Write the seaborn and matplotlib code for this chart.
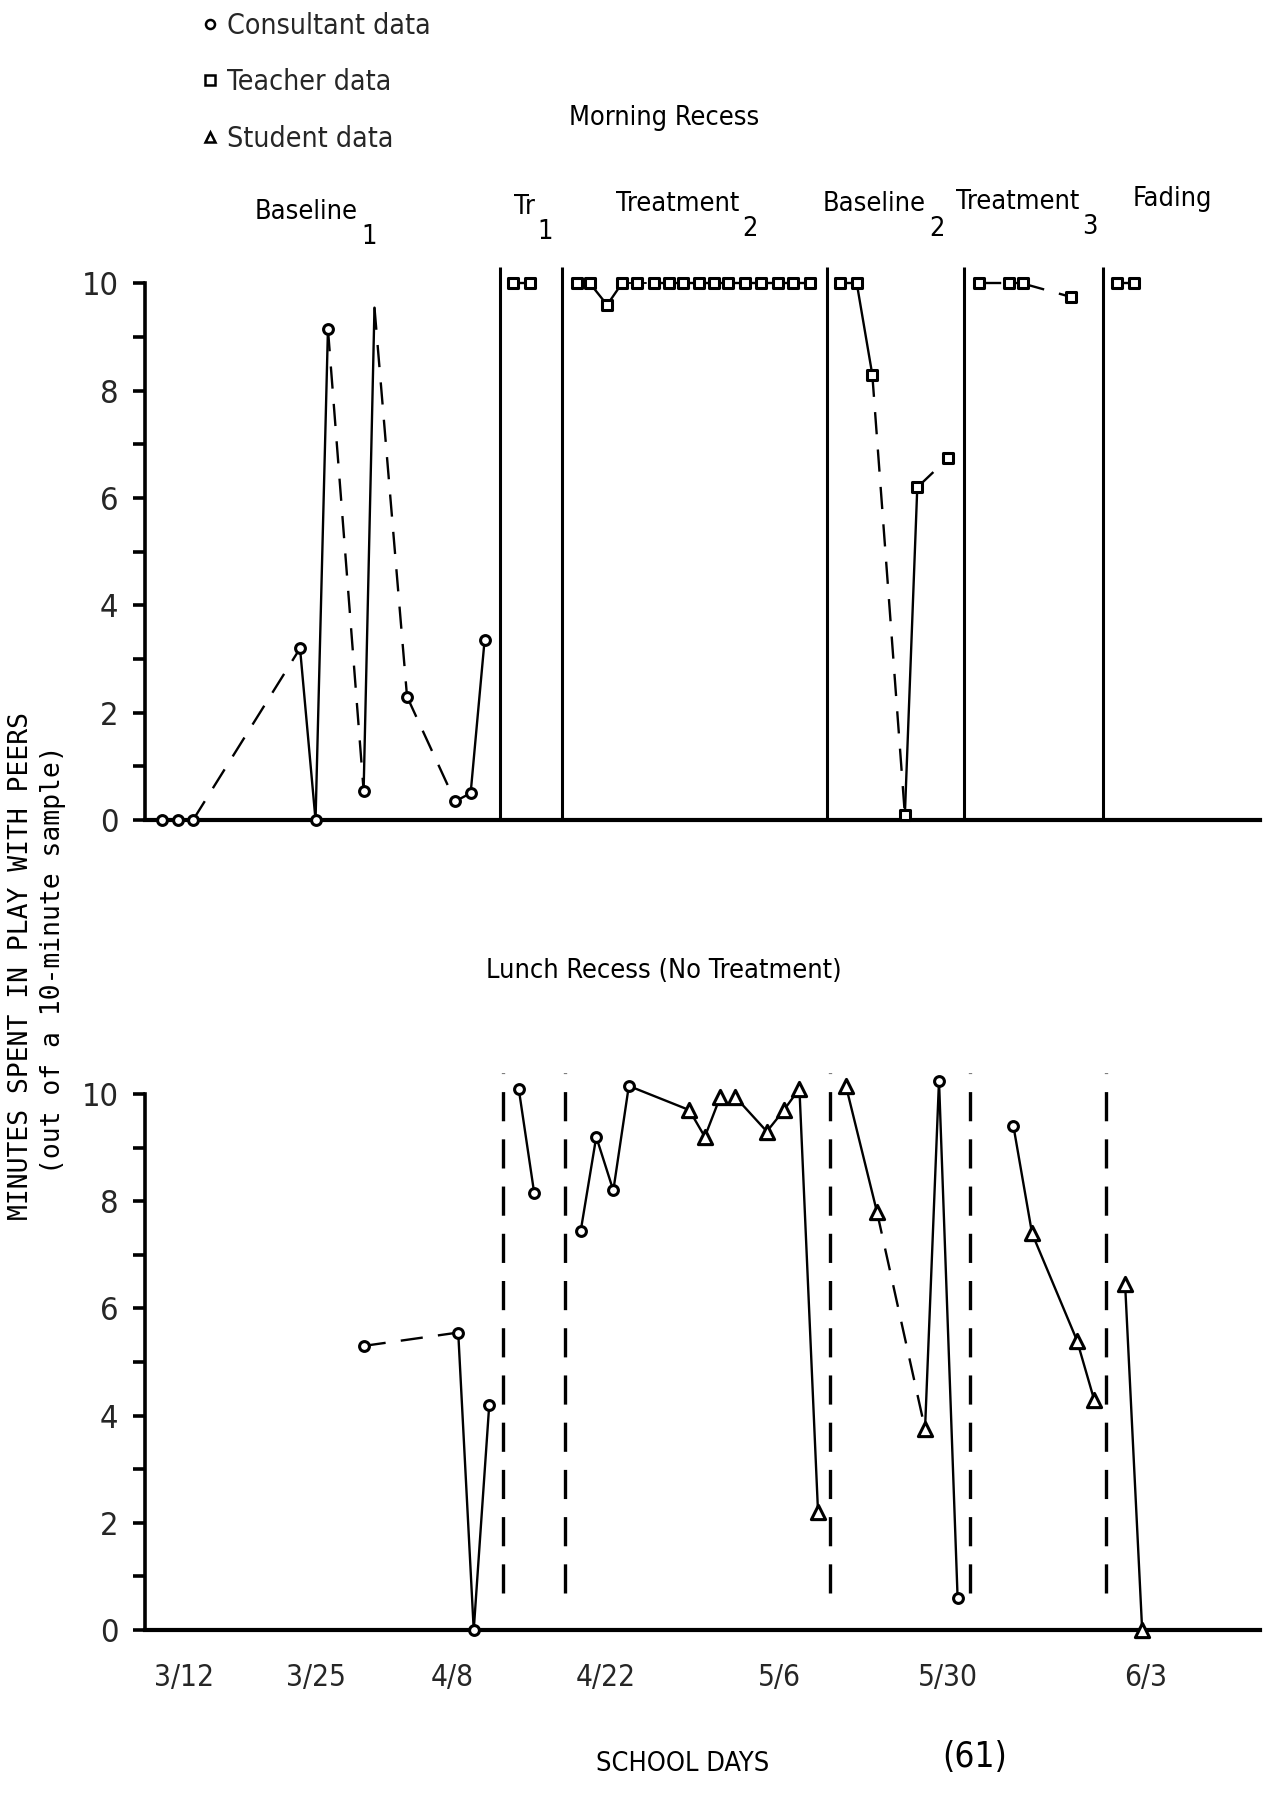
import matplotlib
matplotlib.use("Agg")
import numpy as np
import pandas as pd
import matplotlib.pyplot as plt
import seaborn as sns
from matplotlib import font_manager as fm
from matplotlib.lines import Line2D

# ---------------- DATA (x = school-day index, y = minutes of play out of 10) -------------
# Morning recess
TOP_B1_X = [1.0, 2.0, 3.0, 9.9, 10.9, 11.7, 14.0, 14.7, 16.8, 19.9, 20.9, 21.8]
TOP_B1_Y = [0, 0, 0, 3.2, 0, 9.15, 0.55, 9.55, 2.3, 0.35, 0.5, 3.35]
TOP_B1_LINK = ['-', '-', '--', '-', '-', '--', '-', '--', '--', '-', '-']
TOP_B1_MARK = ['o', 'o', 'o', 'o', 'o', 'o', 'o', '', 'o', 'o', 'o', 'o']

TOP_TR1_X = [23.6, 24.7]
TOP_TR1_Y = [10, 10]
TOP_TR1_LINK = ['-']

TOP_TR2_X = [27.75, 28.6, 29.7, 30.65, 31.6, 32.7, 33.7, 34.6, 35.6, 36.6, 37.5,
             38.6, 39.6, 40.7, 41.7, 42.8]
TOP_TR2_Y = [10, 10, 9.6, 10, 10, 10, 10, 10, 10, 10, 10, 10, 10, 10, 10, 10]
TOP_TR2_LINK = ['-', '-', '-', ':', ':', '-', '-', '-', '-', '-', '-', '-', '-', '-', '-']

TOP_B2_X = [44.7, 45.8, 46.8, 48.9, 49.7, 51.7]
TOP_B2_Y = [10, 10, 8.3, 0.1, 6.2, 6.75]
TOP_B2_LINK = ['-', '-', '--', '-', '--']

TOP_TR3_X = [53.7, 55.6, 56.5, 59.6]
TOP_TR3_Y = [10, 10, 10, 9.75]
TOP_TR3_LINK = ['--', '-', '--']

TOP_FAD_X = [62.6, 63.7]
TOP_FAD_Y = [10, 10]
TOP_FAD_LINK = ['-']

TOP_PHASE_X = [22.8, 26.8, 43.9, 52.7, 61.7]

# Lunch recess
BOT_B1_X = [14.0, 20.1, 21.1, 22.1]
BOT_B1_Y = [5.3, 5.55, 0.0, 4.2]
BOT_B1_LINK = ['--', '-', '-']
BOT_B1_MARK = ['o', 'o', 'o', 'o']

BOT_TR1_X = [24.0, 25.0]
BOT_TR1_Y = [10.1, 8.15]
BOT_TR1_LINK = ['-']
BOT_TR1_MARK = ['o', 'o']

BOT_TR2_X = [28.0, 29.0, 30.1, 31.1, 35.0, 36.0, 37.0, 37.95, 40.0, 41.1, 42.1, 43.3]
BOT_TR2_Y = [7.45, 9.2, 8.2, 10.15, 9.7, 9.2, 9.95, 9.95, 9.3, 9.7, 10.1, 2.2]
BOT_TR2_LINK = ['-', '-', '-', '-', '-', '-', '', '-', '-', '-', '-']
BOT_TR2_MARK = ['o', 'o', 'o', 'o', '^', '^', '^', '^', '^', '^', '^', '^']

BOT_B2_X = [45.1, 47.1, 50.2, 51.1, 52.3]
BOT_B2_Y = [10.15, 7.8, 3.75, 10.25, 0.6]
BOT_B2_LINK = ['-', '--', '-', '-']
BOT_B2_MARK = ['^', '^', '^', 'o', 'o']

BOT_TR3_X = [55.9, 57.1, 60.0, 61.1]
BOT_TR3_Y = [9.4, 7.4, 5.4, 4.3]
BOT_TR3_LINK = ['-', '-', '-']
BOT_TR3_MARK = ['o', '^', '^', '^']

BOT_FAD_X = [63.1, 64.2]
BOT_FAD_Y = [6.45, 0.0]
BOT_FAD_LINK = ['-']
BOT_FAD_MARK = ['^', '^']

BOT_PHASE_X = [23.0, 27.0, 44.1, 53.1, 61.9]

DATE_POS = [2.4, 10.9, 19.7, 29.6, 40.8, 51.7, 64.4]
DATE_LABELS = ['3/12', '3/25', '4/8', '4/22', '5/6', '5/30', '6/3']

Y_MAJOR = [0, 2, 4, 6, 8, 10]
Y_MINOR = [1, 3, 5, 7, 9]

# ---------------- STYLE -------------
sns.set_theme(style="white")
plt.rcParams['lines.scale_dashes'] = False

# look for a narrow / condensed sans face; fall back to DejaVu Sans
_entries = fm.fontManager.ttflist
_narrow_file = None
_pref = ['Liberation Sans Narrow', 'DejaVu Sans Condensed', 'Noto Sans Condensed',
         'Roboto Condensed', 'Open Sans Condensed', 'DejaVu Sans']
_cands = []
for f in _entries:
    st = str(f.stretch).lower()
    nm = f.name
    fn = f.fname.lower()
    is_narrow = ('condensed' in st and 'semi' not in st) or 'Narrow' in nm or \
        ('condensed' in fn and 'semi' not in fn and 'extra' not in fn and 'ultra' not in fn)
    if not is_narrow or 'mono' in fn or ('serif' in fn and 'sans' not in fn):
        continue
    if f.style != 'normal' or str(f.weight) not in ('400', 'normal', 'regular', 'book'):
        continue
    if 'bold' in fn or 'italic' in fn or 'oblique' in fn or 'light' in fn or \
            'medium' in fn or 'thin' in fn or 'black' in fn:
        continue
    _cands.append(f)
if _cands:
    def _rank(f):
        for i, p in enumerate(_pref):
            if f.name.startswith(p.split()[0]) and ('narrow' in f.fname.lower() or 'condensed' in f.fname.lower()):
                return i
        return 99
    _cands.sort(key=_rank)
    _narrow_file = _cands[0].fname


def fp(size):
    if _narrow_file:
        return fm.FontProperties(fname=_narrow_file, size=size)
    return fm.FontProperties(family='DejaVu Sans', size=size)


LS = {'-': '-', '--': (0, (16, 11)), ':': (0, (2, 3))}
SIZES = {'o': 50, 's': 55, '^': 105}

fig = plt.figure(figsize=(12.67, 17.96), dpi=100)
fig.patch.set_facecolor('white')
_renderer = fig.canvas.get_renderer()


def text_w(s, size):
    w, h, d = _renderer.get_text_width_height_descent(s, fp(size), ismath=False)
    return w


def fit_size(s, target_px, cap):
    return min(cap, 20.0 * target_px / text_w(s, 20.0))


T_SIZE = fit_size('Lunch Recess (No Treatment)', 355, 26)
TICK_SIZE = min(24, T_SIZE * 1.1)

XL = (-0.1, 71.8)
ax_top = fig.add_axes([0.1144, 0.5434, 0.8801, 0.3122])
ax_bot = fig.add_axes([0.1144, 0.0924, 0.8801, 0.3134])


def draw_series(ax, xs, ys, links, marks):
    df = pd.DataFrame({'x': xs, 'y': ys, 'm': marks})
    for i, ls in enumerate(links):
        if not ls:
            continue
        seg = df.iloc[i:i + 2]
        sns.lineplot(data=seg, x='x', y='y', ax=ax, color='black',
                     linewidth=1.7 if ls != ':' else 1.3, linestyle=LS[ls],
                     sort=False, estimator=None, legend=False)
    for m in sorted(set(marks)):
        if not m:
            continue
        sub = df[df['m'] == m]
        sns.scatterplot(data=sub, x='x', y='y', ax=ax, marker=m, s=SIZES[m],
                        color='white', edgecolor='black', linewidth=2.2,
                        zorder=5, clip_on=False, legend=False)


def style_axes(ax, ymax):
    ax.set_xlim(*XL)
    ax.set_ylim(0, ymax)
    for side in ('top', 'right'):
        ax.spines[side].set_visible(False)
    ax.spines['left'].set_bounds(0, 10)
    ax.spines['left'].set_linewidth(2.6)
    ax.spines['bottom'].set_linewidth(3.0)
    ax.spines['left'].set_color('black')
    ax.spines['bottom'].set_color('black')
    ax.set_yticks(Y_MAJOR)
    ax.set_yticklabels([str(v) for v in Y_MAJOR])
    ax.set_yticks(Y_MINOR, minor=True)
    ax.tick_params(axis='y', which='both', left=True, direction='out',
                   length=9, width=2.6, color='black', pad=10)
    for lbl in ax.get_yticklabels():
        lbl.set_fontproperties(fp(TICK_SIZE + 2))
    ax.set_xlabel('')
    ax.set_ylabel('')
    ax.grid(False)
    ax.set_facecolor('white')


# ---- top panel ----
ax = ax_top
draw_series(ax, TOP_B1_X, TOP_B1_Y, TOP_B1_LINK, TOP_B1_MARK)
draw_series(ax, TOP_TR1_X, TOP_TR1_Y, TOP_TR1_LINK, ['s'] * len(TOP_TR1_X))
draw_series(ax, TOP_TR2_X, TOP_TR2_Y, TOP_TR2_LINK, ['s'] * len(TOP_TR2_X))
draw_series(ax, TOP_B2_X, TOP_B2_Y, TOP_B2_LINK, ['s'] * len(TOP_B2_X))
draw_series(ax, TOP_TR3_X, TOP_TR3_Y, TOP_TR3_LINK, ['s'] * len(TOP_TR3_X))
draw_series(ax, TOP_FAD_X, TOP_FAD_Y, TOP_FAD_LINK, ['s'] * len(TOP_FAD_X))
ax.vlines(TOP_PHASE_X, 0, 10.3, colors='black', linewidth=2.2)
style_axes(ax, 10.45)
ax.set_xticks([])

# ---- bottom panel ----
ax = ax_bot
draw_series(ax, BOT_B1_X, BOT_B1_Y, BOT_B1_LINK, BOT_B1_MARK)
draw_series(ax, BOT_TR1_X, BOT_TR1_Y, BOT_TR1_LINK, BOT_TR1_MARK)
draw_series(ax, BOT_TR2_X, BOT_TR2_Y, BOT_TR2_LINK, BOT_TR2_MARK)
draw_series(ax, BOT_B2_X, BOT_B2_Y, BOT_B2_LINK, BOT_B2_MARK)
draw_series(ax, BOT_TR3_X, BOT_TR3_Y, BOT_TR3_LINK, BOT_TR3_MARK)
draw_series(ax, BOT_FAD_X, BOT_FAD_Y, BOT_FAD_LINK, BOT_FAD_MARK)
ax.vlines(BOT_PHASE_X, 0.7, 10.4, colors='black', linewidth=2.4,
          linestyles=[(0, (21, 13))])
style_axes(ax, 10.5)
ax.set_xticks(DATE_POS)
ax.set_xticklabels(DATE_LABELS)
ax.tick_params(axis='x', which='both', bottom=True, length=0, pad=24)
for lbl in ax.get_xticklabels():
    lbl.set_fontproperties(fp(TICK_SIZE))


# ---- texts ----
def ftext(x, y, s, size, ha='center', va='center', **kw):
    fig.text(x / 1267, 1 - y / 1796, s, fontproperties=fp(size), ha=ha, va=va,
             color='black', **kw)


def phase_title(left, y, word, sub):
    ftext(left, y, word, T_SIZE, ha='left')
    if sub:
        w = text_w(word, T_SIZE)
        ftext(left + w + 3, y + 25, sub, T_SIZE, ha='left')


ftext(664, 118, 'Morning Recess', T_SIZE)
phase_title(255, 212, 'Baseline', '1')
phase_title(514, 207, 'Tr', '1')
phase_title(616, 204, 'Treatment', '2')
phase_title(823, 204, 'Baseline', '2')
phase_title(956, 202, 'Treatment', '3')
phase_title(1133, 199, 'Fading', '')
ftext(664, 971, 'Lunch Recess (No Treatment)', T_SIZE)
ftext(683, 1764, 'SCHOOL DAYS', T_SIZE)
ftext(975, 1757, '(61)', T_SIZE * 1.3)

# y label (two lines, rotated)
fig.text(21 / 1267, 1 - 966 / 1796, 'MINUTES SPENT IN PLAY WITH PEERS',
         rotation=90, ha='center', va='center', family='DejaVu Sans Mono',
         fontsize=19, color='black')
fig.text(53 / 1267, 1 - 960 / 1796, '(out of a 10-minute sample)',
         rotation=90, ha='center', va='center', family='DejaVu Sans Mono',
         fontsize=19, color='black')

# legend
handles = [
    Line2D([], [], linestyle='none', marker='o', markersize=6.5,
           markerfacecolor='white', markeredgecolor='black', markeredgewidth=1.8),
    Line2D([], [], linestyle='none', marker='s', markersize=6.5,
           markerfacecolor='white', markeredgecolor='black', markeredgewidth=1.8),
    Line2D([], [], linestyle='none', marker='^', markersize=6.5,
           markerfacecolor='white', markeredgecolor='black', markeredgewidth=1.8),
]
leg = fig.legend(handles, ['Consultant data', 'Teacher data', 'Student data'],
                 loc='upper left', bbox_to_anchor=(203 / 1267, 1 - 12 / 1796),
                 frameon=False, prop=fp(T_SIZE * 1.05), handlelength=0.5,
                 handletextpad=0.35, labelspacing=1.0, borderaxespad=0, borderpad=0)

fig.savefig('out.png', dpi=100, facecolor='white')
